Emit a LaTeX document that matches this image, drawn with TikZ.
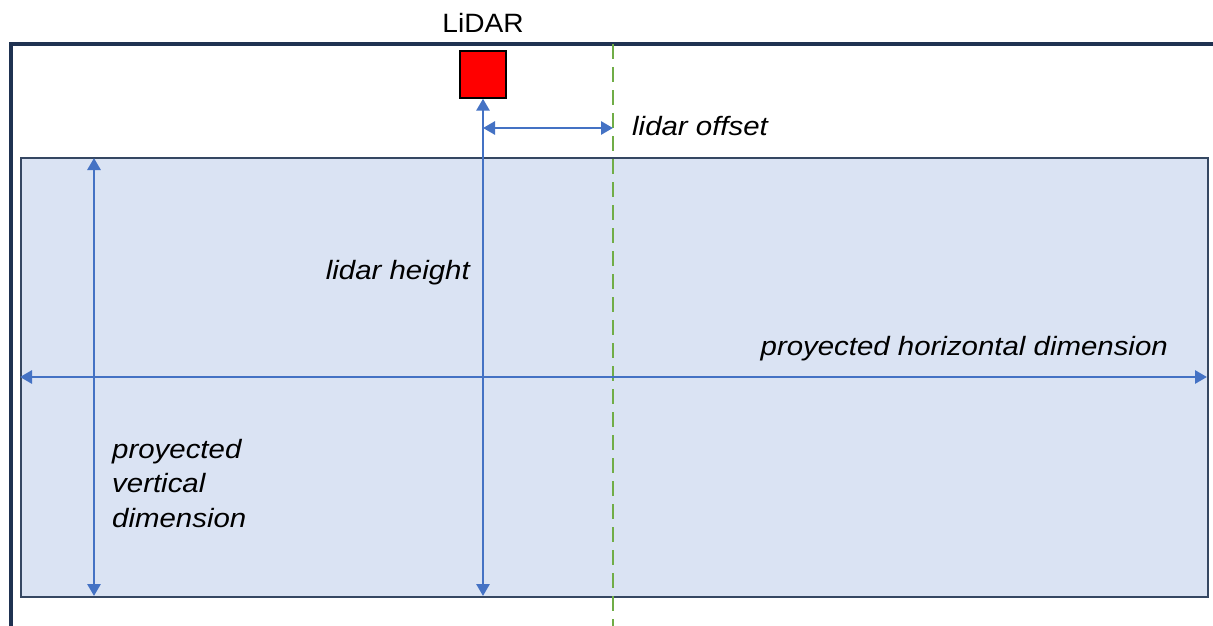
\documentclass[tikz,border=0pt]{standalone}
\usepackage{fontspec}
\setmainfont{Liberation Sans}
\newfontfamily\lblfont[FakeStretch=1.11]{Liberation Sans}
\newfontfamily\ttlfont[FakeStretch=1.06]{Liberation Sans}
\usetikzlibrary{arrows.meta}
\definecolor{framenavy}{HTML}{1F3251}
\definecolor{panelfill}{HTML}{DAE3F3}
\definecolor{dimblue}{HTML}{4472C4}
\definecolor{offsetgreen}{HTML}{70AD47}
\tikzset{
  frameline/.style={draw=framenavy, line width=4pt},
  panel/.style={draw=framenavy!90, line width=2pt, fill=panelfill},
  dimline/.style={draw=dimblue, line width=2.8pt, {Triangle[length=12pt,width=13pt]}-{Triangle[length=12pt,width=13pt]}},
  sensor/.style={draw=black, line width=1.4pt, fill=red, minimum width=46pt, minimum height=47pt, inner sep=0pt},
  lbl/.style={font=\lblfont\fontsize{26.5}{34.5}\selectfont\itshape, inner sep=0pt},
  title/.style={font=\ttlfont\fontsize{26.5}{30}\selectfont, inner sep=0pt},
}
\begin{document}
\begin{tikzpicture}[x=1pt, y=-1pt]
  \useasboundingbox (0,0) rectangle (1213,626);

  % scene frame: top and left walls
  \coordinate (ftopR) at (1213,44);
  \coordinate (fcorner) at (11,44);
  \coordinate (fbot) at (11,626);
  \draw[frameline] (ftopR) -- (fcorner) -- (fbot);

  % projected image panel
  \node[panel, minimum width=1187pt, minimum height=439pt, anchor=north west, inner sep=0pt] (panel) at (20,157) {};

  % sensor
  \node[sensor] (lidar) at (483,74.5) {};
  \node[title, anchor=base] (lidarlbl) at (483,33) {LiDAR};

  % optical centre line
  \coordinate (ctop) at (613,44);
  \coordinate (cbot) at (613,626);
  \draw[offsetgreen, line width=2.4pt, dash pattern=on 15pt off 8pt] (ctop) -- (cbot);

  % lidar height
  \coordinate (hbot) at (483,596);
  \draw[dimline] (lidar.south) -- (hbot);

  % lidar offset
  \coordinate (oa) at (483,128);
  \coordinate (ob) at (613,128);
  \draw[dimline] (oa) -- (ob);

  % projected horizontal dimension
  \coordinate (hl) at (20,377);
  \coordinate (hr) at (1207,377);
  \draw[dimline] (hl) -- (hr);

  % projected vertical dimension
  \coordinate (vt) at (94,158);
  \coordinate (vb) at (94,596);
  \draw[dimline] (vt) -- (vb);

  % labels
  \node[lbl, anchor=base west] (offlbl) at (632,135) {lidar offset};
  \node[lbl, anchor=base east] (hgtlbl) at (470,279) {lidar height};
  \node[lbl, anchor=base east] (horlbl) at (1168,355) {proyected horizontal dimension};
  \node[lbl, anchor=base west] (verlbl1) at (112,458) {proyected};
  \node[lbl, anchor=base west] (verlbl2) at (112,492.5) {vertical};
  \node[lbl, anchor=base west] (verlbl3) at (112,527) {dimension};
\end{tikzpicture}
\end{document}
